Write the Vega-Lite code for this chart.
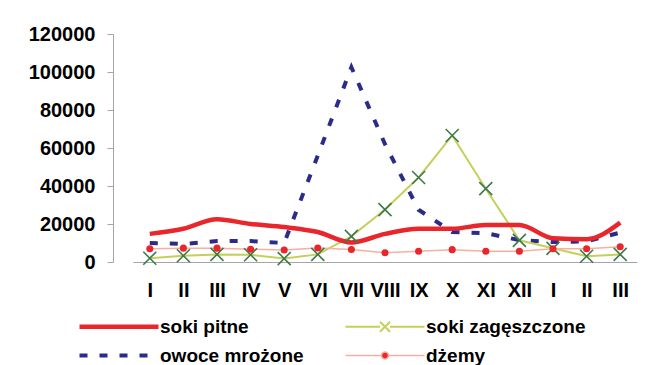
{
  "$schema": "https://vega.github.io/schema/vega-lite/v6.json",
  "autosize": {"type": "none"},
  "width": 535,
  "height": 228,
  "padding": {"left": 113, "top": 34, "right": 0, "bottom": 103},
  "background": "#ffffff",
  "config": {
    "view": {"stroke": null},
    "font": "Liberation Sans"
  },
  "data": {
    "values": [
      {"n": 1, "miesiac": "I", "soki pitne": 14800, "soki zagęszczone": 2000, "owoce mrożone": 10000, "dżemy": 7000},
      {"n": 2, "miesiac": "II", "soki pitne": 17500, "soki zagęszczone": 3300, "owoce mrożone": 9500, "dżemy": 7300},
      {"n": 3, "miesiac": "III", "soki pitne": 22500, "soki zagęszczone": 4000, "owoce mrożone": 11000, "dżemy": 7300},
      {"n": 4, "miesiac": "IV", "soki pitne": 20000, "soki zagęszczone": 3800, "owoce mrożone": 11000, "dżemy": 6700},
      {"n": 5, "miesiac": "V", "soki pitne": 18400, "soki zagęszczone": 1800, "owoce mrożone": 10000, "dżemy": 6300},
      {"n": 6, "miesiac": "VI", "soki pitne": 15800, "soki zagęszczone": 4000, "owoce mrożone": 56000, "dżemy": 7400},
      {"n": 7, "miesiac": "VII", "soki pitne": 10300, "soki zagęszczone": 13500, "owoce mrożone": 102500, "dżemy": 6600},
      {"n": 8, "miesiac": "VIII", "soki pitne": 14800, "soki zagęszczone": 27600, "owoce mrożone": 62000, "dżemy": 4900},
      {"n": 9, "miesiac": "IX", "soki pitne": 17500, "soki zagęszczone": 44500, "owoce mrożone": 27500, "dżemy": 5700},
      {"n": 10, "miesiac": "X", "soki pitne": 17500, "soki zagęszczone": 66600, "owoce mrożone": 15800, "dżemy": 6500},
      {"n": 11, "miesiac": "XI", "soki pitne": 19500, "soki zagęszczone": 38600, "owoce mrożone": 15200, "dżemy": 5700},
      {"n": 12, "miesiac": "XII", "soki pitne": 19500, "soki zagęszczone": 11400, "owoce mrożone": 11500, "dżemy": 5700},
      {"n": 13, "miesiac": "I", "soki pitne": 12500, "soki zagęszczone": 7200, "owoce mrożone": 10500, "dżemy": 7000},
      {"n": 14, "miesiac": "II", "soki pitne": 12000, "soki zagęszczone": 3000, "owoce mrożone": 10800, "dżemy": 7000},
      {"n": 15, "miesiac": "III", "soki pitne": 20700, "soki zagęszczone": 4000, "owoce mrożone": 15500, "dżemy": 8000}
    ]
  },
  "transform": [
    {"fold": ["soki pitne", "soki zagęszczone", "owoce mrożone", "dżemy"], "as": ["seria", "wartosc"]}
  ],
  "encoding": {
    "x": {
      "field": "n",
      "type": "ordinal",
      "scale": {"type": "point", "range": [20, 524]},
      "axis": {
        "title": null,
        "labelAngle": 0,
        "labelExpr": "['I','II','III','IV','V','VI','VII','VIII','IX','X','XI','XII','I','II','III'][datum.value-1]",
        "labelFont": "Liberation Sans",
        "labelFontSize": 20,
        "labelFontWeight": "bold",
        "labelColor": "#000000",
        "labelPadding": 18,
        "ticks": false,
        "domainColor": "#a6a6a6",
        "domainWidth": 1,
        "grid": false
      }
    },
    "y": {
      "field": "wartosc",
      "type": "quantitative",
      "scale": {"domain": [0, 120000], "nice": false},
      "axis": {
        "title": null,
        "values": [0, 20000, 40000, 60000, 80000, 100000, 120000],
        "format": "d",
        "labelFont": "Liberation Sans",
        "labelFontSize": 20,
        "labelFontWeight": "bold",
        "labelColor": "#000000",
        "labelPadding": 12,
        "tickSize": 6,
        "tickColor": "#a6a6a6",
        "domainColor": "#a6a6a6",
        "grid": false
      }
    }
  },
  "layer": [
    {
      "transform": [{"filter": "datum.seria === 'owoce mrożone'"}],
      "mark": {"type": "line", "strokeWidth": 4, "strokeDash": [8, 12], "strokeCap": "butt"},
      "encoding": {
        "color": {
          "field": "seria",
          "type": "nominal",
          "scale": {
            "domain": ["soki pitne", "owoce mrożone", "soki zagęszczone", "dżemy"],
            "range": ["#e8262b", "#2b2b8c", "#c5d05a", "#f5b0a0"]
          },
          "legend": {
            "title": null,
            "orient": "none",
            "legendX": 26,
            "legendY": 283,
            "columns": 2,
            "columnPadding": 37,
            "rowPadding": 9,
            "symbolSize": 400,
            "labelOffset": 2,
            "labelFont": "Liberation Sans",
            "labelFontSize": 19,
            "labelFontWeight": "bold",
            "labelColor": "#000000",
            "labelLimit": 300,
            "encode": {
              "symbols": {
                "update": {
                  "shape": {"signal": "datum.value === 'soki zagęszczone' ? 'M-6.9,0H-3.45M-2.45,0H1M-3.45,-0.5L-2.45,0.5M-3.45,0.5L-2.45,-0.5' : datum.value === 'dżemy' ? 'M-6.9,0H-3.3M-2.6,0H1M-2.6,0A0.35,0.35,0,1,1,-3.3,0A0.35,0.35,0,1,1,-2.6,0Z' : 'M-6.9,0H1'"},
                  "fill": {"signal": "datum.value === 'dżemy' ? '#e8262b' : 'transparent'"},
                  "strokeWidth": {"signal": "datum.value === 'soki pitne' ? 4.5 : datum.value === 'owoce mrożone' ? 4 : datum.value === 'soki zagęszczone' ? 2 : 1.5"},
                  "strokeDash": {"signal": "datum.value === 'owoce mrożone' ? [8, 12] : [1, 0]"},
                  "opacity": {"value": 1}
                }
              }
            }
          }
        }
      }
    },
    {
      "transform": [{"filter": "datum.seria === 'soki zagęszczone'"}],
      "mark": {"type": "line", "strokeWidth": 2},
      "encoding": {"color": {"field": "seria", "type": "nominal"}}
    },
    {
      "transform": [{"filter": "datum.seria === 'dżemy'"}],
      "mark": {"type": "line", "strokeWidth": 1.5},
      "encoding": {"color": {"field": "seria", "type": "nominal"}}
    },
    {
      "transform": [{"filter": "datum.seria === 'soki pitne'"}],
      "mark": {"type": "line", "strokeWidth": 4.5, "interpolate": "monotone"},
      "encoding": {"color": {"field": "seria", "type": "nominal"}}
    },
    {
      "transform": [{"filter": "datum.seria === 'soki zagęszczone'"}],
      "mark": {"type": "point", "shape": "M-1,-1L1,1M-1,1L1,-1", "size": 169, "filled": false, "color": "#3d7a4a", "strokeWidth": 1.6, "opacity": 1}
    },
    {
      "transform": [{"filter": "datum.seria === 'dżemy'"}],
      "mark": {"type": "point", "shape": "circle", "size": 50, "filled": true, "color": "#e8262b", "opacity": 1}
    }
  ]
}
